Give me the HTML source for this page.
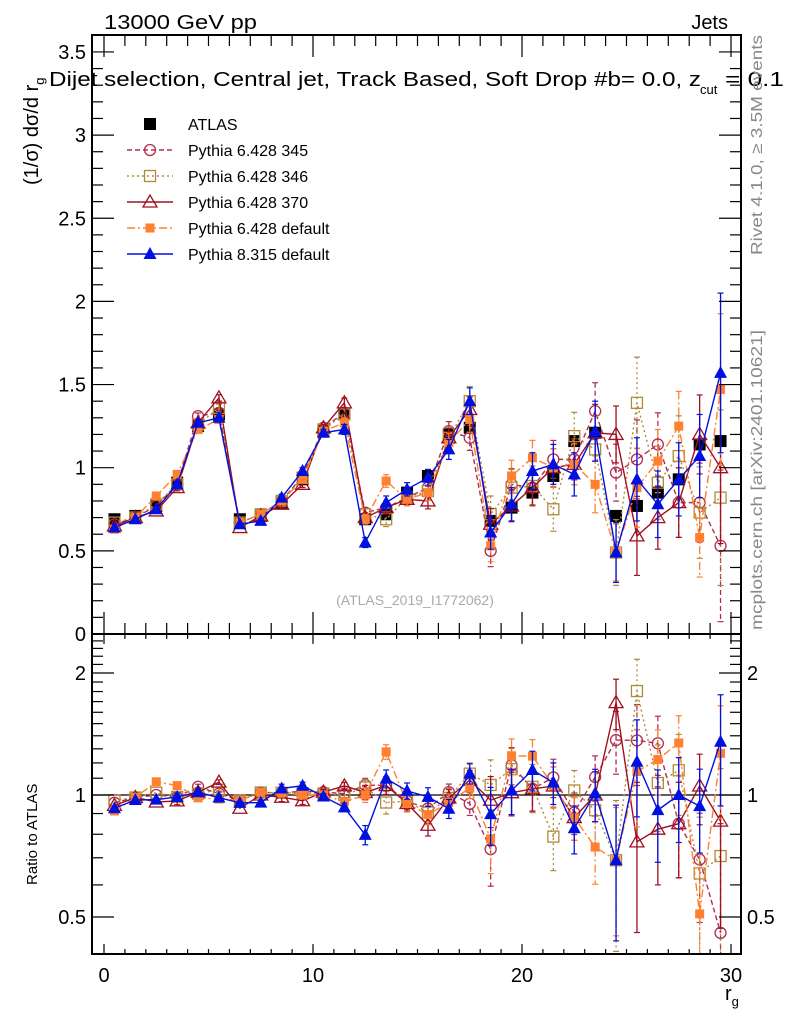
<!DOCTYPE html>
<html><head><meta charset="utf-8"><style>
html,body{margin:0;padding:0;background:#fff;width:786px;height:1024px;overflow:hidden;}
svg{display:block;font-family:"Liberation Sans",Arial,sans-serif;}
</style></head><body>
<svg id="chart" width="786" height="1024" viewBox="0 0 786 1024" xmlns="http://www.w3.org/2000/svg">
<defs>
<clipPath id="clipMain"><rect x="92" y="35" width="649" height="599"/></clipPath>
<clipPath id="clipRatio"><rect x="92" y="634" width="649" height="320"/></clipPath>
</defs>
<rect x="0" y="0" width="786" height="1024" fill="#fff"/>
<g id="main-marks" clip-path="url(#clipMain)"></g>
<g id="ratio-marks" clip-path="url(#clipRatio)"></g>
<g id="axes"></g>
<text x="104" y="29" font-size="20" textLength="153" lengthAdjust="spacingAndGlyphs">13000 GeV pp</text>
<text x="728" y="29" font-size="20" text-anchor="end">Jets</text>
<text x="49" y="86" font-size="20" textLength="652" lengthAdjust="spacingAndGlyphs">Dijet selection, Central jet, Track Based, Soft Drop #b= 0.0, z</text>
<text x="700" y="94" font-size="13">cut</text>
<text x="725" y="86" font-size="20" textLength="59" lengthAdjust="spacingAndGlyphs">= 0.1</text>
<text transform="translate(38,185) rotate(-90)" font-size="20">(1/σ) dσ/d r<tspan font-size="13" dy="6">g</tspan></text>
<text transform="translate(37,885) rotate(-90)" font-size="15">Ratio to ATLAS</text>
<text x="725" y="1000" font-size="20">r<tspan font-size="13" dy="6">g</tspan></text>
<text transform="translate(762,255) rotate(-90)" font-size="16" fill="#888" textLength="220" lengthAdjust="spacingAndGlyphs">Rivet 4.1.0, ≥ 3.5M events</text>
<text transform="translate(762,630) rotate(-90)" font-size="16" fill="#888" textLength="300" lengthAdjust="spacingAndGlyphs">mcplots.cern.ch [arXiv:2401.10621]</text>
<text x="415" y="605" font-size="14" fill="#aaa" text-anchor="middle">(ATLAS_2019_I1772062)</text>
<g id="legend"></g>
</svg>
<script>
const bins = [0.5,1.5,2.5,3.5,4.5,5.5,6.5,7.5,8.5,9.5,10.5,11.5,12.5,13.5,14.5,15.5,16.5,17.5,18.5,19.5,20.5,21.5,22.5,23.5,24.5,25.5,26.5,27.5,28.5,29.5];
const atlas = [0.69,0.71,0.77,0.91,1.25,1.32,0.69,0.71,0.79,0.93,1.22,1.32,0.69,0.72,0.85,0.95,1.20,1.24,0.68,0.76,0.85,0.95,1.16,1.21,0.71,0.77,0.85,0.93,1.14,1.16];
const py345 = [0.66,0.70,0.77,0.90,1.31,1.33,0.67,0.72,0.80,0.95,1.24,1.33,0.73,0.76,0.82,0.88,1.22,1.18,0.50,0.90,0.88,1.05,1.05,1.34,0.97,1.05,1.14,0.79,0.79,0.53];
const py346 = [0.67,0.70,0.78,0.90,1.26,1.36,0.67,0.72,0.80,0.94,1.23,1.32,0.72,0.69,0.82,0.86,1.18,1.40,0.72,0.88,0.89,0.75,1.19,1.11,0.49,1.39,0.91,1.07,0.73,0.82];
const py370 = [0.65,0.70,0.74,0.88,1.27,1.42,0.64,0.71,0.78,0.90,1.24,1.39,0.70,0.76,0.81,0.80,1.18,1.35,0.66,0.77,0.88,1.00,1.02,1.21,1.20,0.59,0.70,0.79,1.20,1.00];
const pydef = [0.63,0.70,0.83,0.96,1.23,1.29,0.67,0.72,0.80,0.93,1.22,1.27,0.69,0.92,0.81,0.85,1.15,1.29,0.53,0.95,1.06,1.00,1.02,0.90,0.49,0.88,1.04,1.25,0.58,1.47];
const py8 = [0.64,0.69,0.75,0.90,1.27,1.30,0.66,0.68,0.82,0.98,1.21,1.23,0.55,0.79,0.87,0.94,1.11,1.40,0.61,0.78,0.98,1.02,0.96,1.22,0.49,0.93,0.78,0.93,1.07,1.57];
const mcErr = [0.01,0.01,0.01,0.02,0.02,0.02,0.01,0.01,0.02,0.02,0.02,0.03,0.03,0.04,0.04,0.05,0.06,0.08,0.10,0.10,0.11,0.12,0.13,0.18,0.18,0.25,0.20,0.22,0.25,0.48];
const yTicks = [0,0.5,1,1.5,2,2.5,3,3.5];
const yTickLabels = ["0","0.5","1","1.5","2","2.5","3","3.5"];
const xTicks = [0,10,20,30];
const rTicks = [0.5,1,2];
const rTickLabels = ["0.5","1","2"];

const NS="http://www.w3.org/2000/svg";
const X = v => 104 + v*20.9;
const Y = v => 634 - v*166.3;
const R = v => 795 - 122*Math.log2(v);
const L=92, Rt=741, T=35, MB=634, RB=954;
function mk(tag, attrs, parent){const e=document.createElementNS(NS,tag);for(const k in attrs)e.setAttribute(k,attrs[k]);parent.appendChild(e);return e;}

const series = [
 {name:"pythia-6428-345", vals:py345, color:"#b22d50", dash:"5,3", marker:"circle", label:"Pythia 6.428 345"},
 {name:"pythia-6428-346", vals:py346, color:"#b08a3c", dash:"2,3", marker:"osquare", label:"Pythia 6.428 346"},
 {name:"pythia-6428-370", vals:py370, color:"#a01020", dash:"", marker:"otri", label:"Pythia 6.428 370"},
 {name:"pythia-6428-default", vals:pydef, color:"#ff8030", dash:"8,3,2,3", marker:"fsquare", label:"Pythia 6.428 default"},
 {name:"pythia-8315-default", vals:py8, color:"#0010e0", dash:"", marker:"ftri", label:"Pythia 8.315 default"}
];

function marker(g, type, cx, cy, color){
  if(type==="circle") return mk("circle",{cx,cy,r:5.5,fill:"none",stroke:color,"stroke-width":1.3},g);
  if(type==="osquare") return mk("rect",{x:cx-5.5,y:cy-5.5,width:11,height:11,fill:"none",stroke:color,"stroke-width":1.3},g);
  if(type==="fsquare") return mk("rect",{x:cx-4.5,y:cy-4.5,width:9,height:9,fill:color},g);
  if(type==="bsquare") return mk("rect",{x:cx-6,y:cy-6,width:12,height:12,fill:"#000"},g);
  if(type==="otri") return mk("polygon",{points:`${cx},${cy-7} ${cx-7},${cy+5} ${cx+7},${cy+5}`,fill:"none",stroke:color,"stroke-width":1.3},g);
  if(type==="ftri") return mk("polygon",{points:`${cx},${cy-7} ${cx-6.5},${cy+5} ${cx+6.5},${cy+5}`,fill:color},g);
}

const mainG=document.getElementById("main-marks");
const ratioG=document.getElementById("ratio-marks");

const refLine = mk("line",{x1:L,x2:Rt,y1:R(1),y2:R(1),stroke:"#000","stroke-width":1.2},ratioG);



const ga=mk("g",{},mainG);


bins.forEach((b,i)=>{
  const m=marker(ga,"bsquare",X(b),Y(atlas[i]),"#000");
  
  
});

series.forEach((s)=>{
  const gm=mk("g",{},mainG);
  
  
  const gr=mk("g",{},ratioG);
  
  
  const errScale = s.name==="pythia-8315-default"?1.0:(s.name==="pythia-6428-346"?1.1:0.95);
  let pm="", pr="";
  bins.forEach((b,i)=>{
    const v=s.vals[i], e=mcErr[i]*errScale, x=X(b);
    pm += (i?"L":"M")+x+","+Y(v);
    const rv=v/atlas[i];
    pr += (i?"L":"M")+x+","+R(rv);
    if(e>0.015){
      mk("line",{x1:x,x2:x,y1:Y(v+e),y2:Y(Math.max(v-e,0.001)),stroke:s.color,"stroke-width":1.3,"stroke-dasharray":s.dash},gm);
      mk("line",{x1:x-3,x2:x+3,y1:Y(v+e),y2:Y(v+e),stroke:s.color,"stroke-width":1.2},gm);
      mk("line",{x1:x-3,x2:x+3,y1:Y(v-e),y2:Y(v-e),stroke:s.color,"stroke-width":1.2},gm);
      const ru=(v+e)/atlas[i], rd=Math.max(v-e,0.05)/atlas[i];
      mk("line",{x1:x,x2:x,y1:R(ru),y2:R(rd),stroke:s.color,"stroke-width":1.3,"stroke-dasharray":s.dash},gr);
      mk("line",{x1:x-3,x2:x+3,y1:R(ru),y2:R(ru),stroke:s.color,"stroke-width":1.2},gr);
      mk("line",{x1:x-3,x2:x+3,y1:R(rd),y2:R(rd),stroke:s.color,"stroke-width":1.2},gr);
    }
  });
  mk("path",{d:pm,fill:"none",stroke:s.color,"stroke-width":1.4,"stroke-dasharray":s.dash},gm);
  mk("path",{d:pr,fill:"none",stroke:s.color,"stroke-width":1.4,"stroke-dasharray":s.dash},gr);
  bins.forEach((b,i)=>{
    const m1=marker(gm,s.marker,X(b),Y(s.vals[i]),s.color);
    
    
    const m2=marker(gr,s.marker,X(b),R(s.vals[i]/atlas[i]),s.color);
    
    
  });
});

const ax=document.getElementById("axes");
function frame(y1,y2,name){
  const r=mk("rect",{x:L,y:y1,width:Rt-L,height:y2-y1,fill:"none",stroke:"#000","stroke-width":2},ax);
  
  
}
frame(T,MB,"main-plot-frame");
frame(MB,RB,"ratio-plot-frame");
for(let v=0; v<=30; v++){
  const x=X(v), len=(v%10===0)?22:11;
  mk("line",{x1:x,x2:x,y1:T,y2:T+len,stroke:"#000","stroke-width":1.2},ax);
  mk("line",{x1:x,x2:x,y1:MB,y2:MB-len,stroke:"#000","stroke-width":1.2},ax);
  mk("line",{x1:x,x2:x,y1:MB,y2:MB+len*0.45,stroke:"#000","stroke-width":1.2},ax);
  mk("line",{x1:x,x2:x,y1:RB,y2:RB-len*0.45,stroke:"#000","stroke-width":1.2},ax);
}
xTicks.forEach(v=>{
  const t=mk("text",{x:X(v),y:982,"font-size":20,"text-anchor":"middle"},ax);
  t.textContent=String(v);
  
  
});
for(let k=0;k<=36;k++){
  const v=k*0.1, y=Y(v); if(y<T) continue;
  const len=(k%5===0)?22:11;
  mk("line",{x1:L,x2:L+len,y1:y,y2:y,stroke:"#000","stroke-width":1.2},ax);
  mk("line",{x1:Rt,x2:Rt-len,y1:y,y2:y,stroke:"#000","stroke-width":1.2},ax);
}
yTicks.forEach((v,i)=>{
  const t=mk("text",{x:L-6,y:Y(v)+7,"font-size":20,"text-anchor":"end"},ax);
  t.textContent=yTickLabels[i];
  
  
});
const rMinor=[0.4,0.5,0.6,0.7,0.8,0.9,1,1.1,1.2,1.3,1.4,1.5,1.6,1.7,1.8,1.9,2,2.1,2.2,2.3,2.4];
rMinor.forEach(v=>{
  const y=R(v); if(y<MB||y>RB) return;
  const len=(v===0.5||v===1||v===2)?22:11;
  mk("line",{x1:L,x2:L+len,y1:y,y2:y,stroke:"#000","stroke-width":1.2},ax);
  mk("line",{x1:Rt,x2:Rt-len,y1:y,y2:y,stroke:"#000","stroke-width":1.2},ax);
});
rTicks.forEach((v,i)=>{
  const t=mk("text",{x:L-6,y:R(v)+7,"font-size":20,"text-anchor":"end"},ax);
  t.textContent=rTickLabels[i];
  
  
  const t2=mk("text",{x:Rt+6,y:R(v)+7,"font-size":20},ax);
  t2.textContent=rTickLabels[i];
  
  
});

const lg=document.getElementById("legend");
const entries=[{label:"ATLAS",marker:"bsquare",color:"#000",dash:null}].concat(series);
entries.forEach((s,i)=>{
  const y=124+i*26;
  const g=mk("g",{},lg);
  
  
  if(s.dash!==null) mk("line",{x1:127,x2:173,y1:y,y2:y,stroke:s.color,"stroke-width":1.4,"stroke-dasharray":s.dash},g);
  marker(g, s.marker, 150, y, s.color);
  const t=mk("text",{x:188,y:y+6,"font-size":16},g);
  t.textContent=s.label;
});
</script>
</body></html>
